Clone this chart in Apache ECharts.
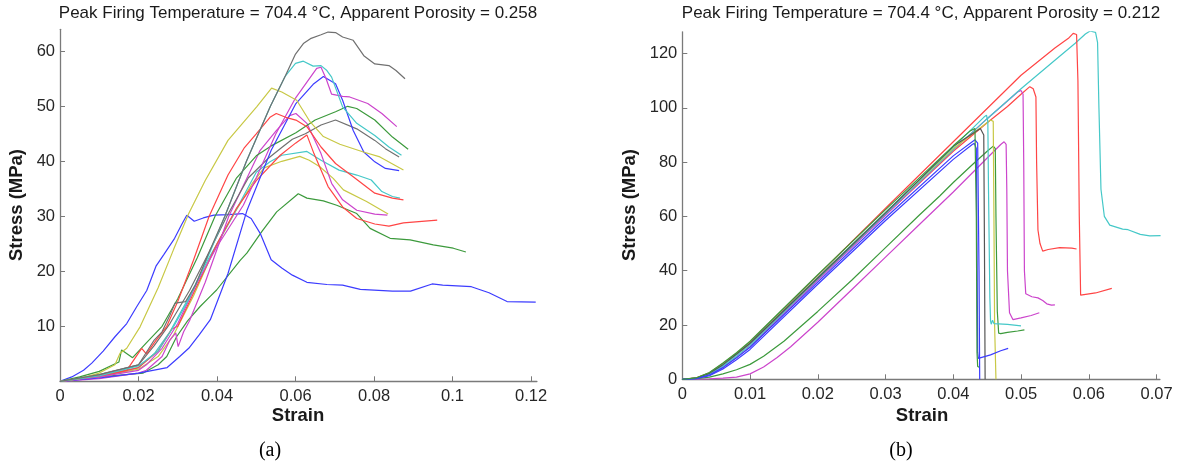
<!DOCTYPE html>
<html>
<head>
<meta charset="utf-8">
<script src="https://cdn.jsdelivr.net/npm/echarts@6/dist/echarts.min.js"></script>
<style>
html,body{margin:0;padding:0;background:#fff;}
#chart{width:1179px;height:469px;}
</style>
</head>
<body>
<div id="chart"></div>
<script>
// ---------- tick labels ----------
const LEFT_X_TICKS = [0, 0.02, 0.04, 0.06, 0.08, 0.1, 0.12];
const LEFT_Y_TICKS = [10, 20, 30, 40, 50, 60];
const RIGHT_X_TICKS = [0, 0.01, 0.02, 0.03, 0.04, 0.05, 0.06, 0.07];
const RIGHT_Y_TICKS = [0, 20, 40, 60, 80, 100, 120];

const TITLE_A = "Peak Firing Temperature = 704.4 \u00B0C, Apparent Porosity = 0.258";
const TITLE_B = "Peak Firing Temperature = 704.4 \u00B0C, Apparent Porosity = 0.212";

// ---------- left panel (a): [strain, stress] ----------
const A_BLUE1 = [[0,0],[0.003,0.8],[0.006,2],[0.0081,3.3],[0.011,5.5],[0.014,8.1],[0.017,10.5],[0.0195,13.5],[0.0221,16.5],[0.0245,21],[0.0264,23],[0.0292,26],[0.031,28.5],[0.0323,30.2],[0.0342,29.1],[0.0365,29.7],[0.0392,30.2],[0.043,30.3],[0.0465,30.5],[0.0487,29.6],[0.051,26.9],[0.0538,22.1],[0.0565,20.6],[0.0592,19.3],[0.0629,18],[0.068,17.6],[0.072,17.5],[0.0765,16.7],[0.0847,16.4],[0.0893,16.4],[0.0948,17.7],[0.0975,17.5],[0.1048,17.2],[0.1093,16.1],[0.1139,14.5],[0.1212,14.4]];
const A_YELLOW1 = [[0,0],[0.005,0.5],[0.01,1.5],[0.014,3],[0.0153,5.1],[0.017,6],[0.0204,9.9],[0.025,17],[0.0289,23.9],[0.0328,30.5],[0.037,36.5],[0.0428,43.8],[0.0465,46.9],[0.0501,49.9],[0.0539,53.3],[0.0565,52.6],[0.0603,51.1],[0.0637,47.2],[0.0671,44.5],[0.0713,43.1],[0.0773,41.7],[0.0815,40.8],[0.0875,38.4]];
const A_RED1 = [[0,0],[0.01,1],[0.017,2],[0.0208,6],[0.022,5],[0.0245,7.5],[0.0272,10],[0.03,14.5],[0.034,22],[0.038,30],[0.0428,37.5],[0.047,42.5],[0.05,45],[0.0535,48],[0.0551,48.7],[0.0575,48],[0.0601,47.5],[0.0629,46.3],[0.0665,42.6],[0.0702,39.6],[0.0747,37.2],[0.0802,34.2],[0.0847,33.3],[0.0875,33]];
const A_RED2 = [[0,0],[0.01,0.8],[0.02,2.5],[0.025,5.5],[0.0285,9.5],[0.03,10],[0.035,17.5],[0.04,25],[0.045,31.5],[0.05,36.5],[0.0561,41.1],[0.06,43.3],[0.0629,44.8],[0.0647,41.4],[0.0683,35.4],[0.072,31.7],[0.0756,29.6],[0.0802,28.6],[0.0838,28.2],[0.0875,28.8],[0.0961,29.3]];
const A_CYAN1 = [[0,0],[0.01,1],[0.02,2.8],[0.025,5.5],[0.029,10],[0.0325,14.5],[0.0355,19],[0.0385,24],[0.042,30],[0.0475,40],[0.0536,50],[0.0574,55.5],[0.06,57.8],[0.062,58.2],[0.0645,57.3],[0.0665,57.4],[0.068,56.5],[0.0692,55.3],[0.072,49.9],[0.0756,46.9],[0.0802,44.7],[0.0838,42.6],[0.087,41.1]];
const A_GRAY1 = [[0,0],[0.01,1.2],[0.02,3],[0.024,7.5],[0.026,9],[0.028,12],[0.0293,14.2],[0.032,14.5],[0.0345,17.5],[0.038,23.5],[0.042,30],[0.0475,40],[0.0536,50],[0.0574,55.5],[0.06,59.5],[0.062,61.4],[0.0638,62.3],[0.0665,63],[0.0683,63.5],[0.0702,63.4],[0.072,62.6],[0.0747,62],[0.0774,59.2],[0.0802,57.7],[0.0838,57.4],[0.0856,56.5],[0.0879,55]];
const A_MAGENTA1 = [[0,0],[0.01,0.8],[0.02,2],[0.022,3],[0.026,6],[0.03,10.5],[0.035,18],[0.04,24.5],[0.0467,32],[0.05,37],[0.055,45],[0.06,51.5],[0.0654,56.9],[0.0665,57.1],[0.0678,55],[0.0692,52.2],[0.072,51.8],[0.0738,51.7],[0.0784,50.5],[0.082,48.7],[0.0858,46.3]];
const A_BLUE2 = [[0,0],[0.01,0.6],[0.02,1.5],[0.0273,2.5],[0.0305,4.5],[0.0328,6],[0.0355,8.5],[0.0383,11.2],[0.0428,19.6],[0.0476,31],[0.0538,42],[0.0601,50.5],[0.0645,54],[0.0671,55.4],[0.0702,54.1],[0.072,51.1],[0.0747,45.6],[0.0774,41.7],[0.0802,39.9],[0.0829,38.7],[0.0864,38.3]];
const A_GREEN1 = [[0,0],[0.005,0.8],[0.01,1.8],[0.015,3.5],[0.0157,5.7],[0.0185,4.3],[0.022,7],[0.026,10],[0.03,15],[0.035,22.5],[0.0395,30],[0.045,37],[0.05,41],[0.0538,42.8],[0.0601,45.2],[0.065,47.5],[0.0702,49],[0.0733,50],[0.0756,49.6],[0.0802,47.5],[0.0847,44.4],[0.0887,42.2]];
const A_GRAY2 = [[0,0],[0.01,1.2],[0.02,3],[0.024,6.5],[0.028,10.5],[0.033,16.5],[0.038,23.5],[0.0425,30],[0.048,37],[0.053,40.5],[0.0565,42.5],[0.0592,44],[0.0625,45],[0.0665,46.6],[0.0702,47.5],[0.0756,45.9],[0.0802,43.8],[0.0829,42.3],[0.0864,40.8]];
const A_MAGENTA2 = [[0,0],[0.01,0.5],[0.02,1.5],[0.022,2],[0.026,4.5],[0.028,7.5],[0.0295,8.8],[0.0301,6.3],[0.0315,9],[0.033,11],[0.037,18],[0.043,30],[0.047,36],[0.051,42],[0.055,45.5],[0.0585,48.3],[0.0601,48.7],[0.0629,46.9],[0.0665,41.4],[0.0692,36],[0.072,33],[0.0756,31.1],[0.0802,30.4],[0.0834,30.2]];
const A_CYAN2 = [[0,0],[0.01,1],[0.02,2.5],[0.024,5],[0.028,9],[0.033,15.5],[0.038,22.5],[0.044,30],[0.05,38],[0.0535,39.9],[0.0565,41.1],[0.0629,41.8],[0.0665,40.2],[0.0711,38.4],[0.0756,37.5],[0.0793,36.6],[0.082,34.5],[0.0847,33.6],[0.0866,33.3]];
const A_YELLOW2 = [[0,0],[0.01,0.8],[0.02,2.2],[0.025,4.5],[0.029,8.5],[0.034,15.5],[0.039,23.5],[0.044,30],[0.049,36],[0.052,38.8],[0.0565,40],[0.0611,40.9],[0.0635,40.2],[0.0662,39],[0.0696,36.9],[0.0722,34.8],[0.0781,32.7],[0.0836,30.4]];
const A_GREEN2 = [[0,0],[0.01,0.8],[0.0212,1.5],[0.025,3],[0.0272,4.5],[0.0297,8.1],[0.0325,11],[0.0357,13.6],[0.0382,15.4],[0.0399,16.6],[0.0459,22],[0.0476,23.3],[0.0515,27.3],[0.0552,30.8],[0.0607,34.1],[0.0629,33.3],[0.0671,32.8],[0.0705,32],[0.0756,30.5],[0.079,27.8],[0.0841,26],[0.0892,25.7],[0.0951,24.8],[0.1002,24.2],[0.1034,23.5]];

// ---------- right panel (b): [strain, stress] ----------
const B_GREEN1 = [[0,0],[0.002,0.5],[0.004,2.5],[0.006,6],[0.008,9.8],[0.01,14],[0.02,38.5],[0.03,62.5],[0.04,86],[0.0425,91.5],[0.0432,92.4],[0.0434,60],[0.0435,10],[0.0436,4.7],[0.0438,4.5]];
const B_RED1 = [[0,0],[0.002,0.5],[0.004,2.4],[0.006,5.8],[0.008,9.6],[0.01,13.8],[0.02,38.3],[0.03,63],[0.04,87.5],[0.05,112],[0.055,122],[0.057,125.6],[0.0577,127.4],[0.0582,127],[0.0584,110],[0.0586,60],[0.0588,31],[0.059,30.5],[0.061,31.8],[0.0634,33.5]];
const B_CYAN1 = [[0,0],[0.002,0.3],[0.004,1.8],[0.006,4.8],[0.008,8.5],[0.01,12.5],[0.02,37],[0.03,61],[0.04,84.5],[0.045,96],[0.05,107],[0.055,117.5],[0.058,123.8],[0.0595,127.2],[0.0602,128.3],[0.061,127.8],[0.0613,124],[0.0615,100],[0.0618,70],[0.0623,60],[0.0631,56.8],[0.065,55.3],[0.0658,55.1],[0.0676,53.4],[0.069,52.8],[0.0706,52.9]];
const B_RED2 = [[0,0],[0.002,0.4],[0.004,2],[0.006,5.2],[0.008,9],[0.01,13],[0.02,37],[0.03,60.5],[0.04,84],[0.045,94.5],[0.048,100.5],[0.05,105],[0.0513,107.8],[0.0518,107],[0.0522,104],[0.0523,80],[0.0525,55],[0.0528,50],[0.0532,47.2],[0.054,47.8],[0.0557,48.5],[0.0575,48.3],[0.0582,48]];
const B_MAGENTA1 = [[0,0],[0.002,0.3],[0.004,1.6],[0.006,4.4],[0.008,8],[0.01,12],[0.02,36.5],[0.03,60.5],[0.04,84.5],[0.045,96],[0.048,102.5],[0.0495,105.8],[0.05,106.4],[0.0503,105],[0.0504,80],[0.0505,40],[0.0507,31.5],[0.0516,30.4],[0.0525,30],[0.0532,29],[0.0538,27.8],[0.0545,27.3],[0.055,27.4]];
const B_MAGENTA2 = [[0,0],[0.004,0.2],[0.006,0.4],[0.008,0.8],[0.01,2],[0.012,4.5],[0.014,8],[0.016,12],[0.02,21],[0.025,33],[0.03,45],[0.035,57],[0.04,69],[0.045,81.5],[0.047,86.5],[0.0475,87.5],[0.0478,86.5],[0.0479,70],[0.048,40],[0.0483,24.5],[0.0488,22],[0.05,22.6],[0.0515,23.5],[0.0527,24.5]];
const B_GREEN2 = [[0,0],[0.002,0.2],[0.004,0.8],[0.006,2],[0.008,3.5],[0.01,5.5],[0.012,8.5],[0.015,14],[0.02,25],[0.025,36.5],[0.03,48.5],[0.035,60.5],[0.038,67.5],[0.04,72.5],[0.043,79.5],[0.045,84],[0.0459,85.9],[0.0462,85],[0.0463,60],[0.0465,25],[0.0467,17],[0.047,16.8],[0.048,17.3],[0.0495,17.8],[0.0505,18.2]];
const B_CYAN2 = [[0,0],[0.002,0.4],[0.004,2.1],[0.006,5.3],[0.008,9.1],[0.01,13.2],[0.02,37.5],[0.03,61.5],[0.04,85.5],[0.0445,96.5],[0.0449,97.3],[0.0451,95],[0.0452,70],[0.0454,30],[0.0455,21.5],[0.0456,20.3],[0.0458,21.8],[0.046,20.5],[0.048,20.2],[0.05,19.7]];
const B_YELLOW = [[0,0],[0.002,0.45],[0.004,2.3],[0.006,5.6],[0.008,9.5],[0.01,13.5],[0.02,37.5],[0.03,61.5],[0.04,85],[0.0455,95.5],[0.0459,95],[0.046,60],[0.0461,20],[0.0463,0]];
const B_GRAY = [[0,0],[0.002,0.4],[0.004,2.2],[0.006,5.4],[0.008,9.3],[0.01,13.3],[0.02,37.3],[0.03,61.3],[0.04,85.8],[0.044,92.4],[0.0445,90],[0.0446,50],[0.0447,0]];
const B_BLUE1 = [[0,0],[0.002,0.2],[0.004,1.3],[0.006,3.8],[0.008,7.2],[0.01,11],[0.02,35],[0.03,58.5],[0.04,81],[0.0428,86.5],[0.0431,86.9],[0.0434,85],[0.0435,50],[0.0436,10],[0.0437,7.7],[0.0455,9],[0.047,10.5],[0.0481,11.4]];
const B_BLUE2 = [[0,0],[0.002,0.3],[0.004,1.6],[0.006,4.3],[0.008,7.9],[0.01,11.8],[0.02,35.8],[0.03,59.5],[0.04,82.3],[0.0432,88.2],[0.0436,87],[0.0438,40],[0.0439,0]];

// ---------- colours ----------
const C = {
  blue: '#3c3cff', green: '#3c9a3c', red: '#ff4545', cyan: '#45c8c8',
  magenta: '#cc45cc', yellow: '#c8c845', gray: '#707070', dgray: '#555555'
};

const LEFT_SERIES = [
  [A_GREEN2, C.green], [A_BLUE1, C.blue], [A_YELLOW2, C.yellow], [A_CYAN2, C.cyan],
  [A_RED2, C.red], [A_MAGENTA2, C.magenta], [A_GRAY2, C.gray], [A_GREEN1, C.green],
  [A_BLUE2, C.blue], [A_MAGENTA1, C.magenta], [A_RED1, C.red], [A_YELLOW1, C.yellow],
  [A_CYAN1, C.cyan], [A_GRAY1, C.gray]
];
const RIGHT_SERIES = [
  [B_MAGENTA2, C.magenta], [B_GREEN2, C.green], [B_RED2, C.red], [B_MAGENTA1, C.magenta],
  [B_CYAN1, C.cyan], [B_RED1, C.red], [B_YELLOW, C.yellow], [B_CYAN2, C.cyan],
  [B_GRAY, C.dgray], [B_BLUE2, C.blue], [B_BLUE1, C.blue], [B_GREEN1, C.green]
];

const FONT = '"Liberation Sans", Arial, sans-serif';
const AXIS_COLOR = '#7a7a7a';
const LABEL_COLOR = '#262626';
const fmt = v => String(+Number(v).toFixed(4));

function xAxisDef(gridIndex, max, ticks) {
  return {
    type: 'value', gridIndex, min: 0, max,
    axisLine: { show: true, onZero: false, lineStyle: { color: AXIS_COLOR, width: 1.3 } },
    axisTick: { show: true, inside: true, length: 5, customValues: ticks, lineStyle: { color: AXIS_COLOR } },
    axisLabel: { customValues: ticks, formatter: fmt, color: LABEL_COLOR, fontFamily: FONT, fontSize: 16.5, margin: 7 },
    splitLine: { show: false }
  };
}
function yAxisDef(gridIndex, max, ticks) {
  return {
    type: 'value', gridIndex, min: 0, max,
    axisLine: { show: true, onZero: false, lineStyle: { color: AXIS_COLOR, width: 1.3 } },
    axisTick: { show: true, inside: true, length: 5, customValues: ticks, lineStyle: { color: AXIS_COLOR } },
    axisLabel: { customValues: ticks, formatter: fmt, color: LABEL_COLOR, fontFamily: FONT, fontSize: 16.5, margin: 5 },
    splitLine: { show: false }
  };
}

const series = [];
LEFT_SERIES.forEach(([d, col]) => series.push({
  type: 'line', xAxisIndex: 0, yAxisIndex: 0, data: d, showSymbol: false, symbol: 'none',
  smooth: false, clip: true, lineStyle: { color: col, width: 1.2 }, silent: true
}));
RIGHT_SERIES.forEach(([d, col]) => series.push({
  type: 'line', xAxisIndex: 1, yAxisIndex: 1, data: d, showSymbol: false, symbol: 'none',
  smooth: false, clip: true, lineStyle: { color: col, width: 1.2 }, silent: true
}));

function txt(x, y, text, font, rot, color) {
  return { type: 'text', x, y, rotation: rot || 0, silent: true,
    style: { text, x: 0, y: 0, align: 'center', verticalAlign: 'middle', font, fill: color || '#1a1a1a' } };
}

const option = {
  animation: false,
  backgroundColor: '#ffffff',
  grid: [
    { left: 60, top: 29.3, width: 476.9, height: 352 },
    { left: 682.3, top: 31.8, width: 477.6, height: 347.5 }
  ],
  xAxis: [xAxisDef(0, 0.1215, LEFT_X_TICKS), xAxisDef(1, 0.0705, RIGHT_X_TICKS)],
  yAxis: [yAxisDef(0, 64, LEFT_Y_TICKS), yAxisDef(1, 128, RIGHT_Y_TICKS)],
  series,
  graphic: [
    txt(298, 13, TITLE_A, '17px ' + FONT),
    txt(921, 13, TITLE_B, '17px ' + FONT),
    txt(298, 416, 'Strain', 'bold 18.5px ' + FONT),
    txt(922, 416, 'Strain', 'bold 18.5px ' + FONT),
    txt(17, 205, 'Stress (MPa)', 'bold 18.5px ' + FONT, Math.PI / 2),
    txt(630, 205, 'Stress (MPa)', 'bold 18.5px ' + FONT, Math.PI / 2),
    txt(270, 451, '(a)', '20px "Liberation Serif", "Times New Roman", serif', 0, '#000'),
    txt(901, 451, '(b)', '20px "Liberation Serif", "Times New Roman", serif', 0, '#000')
  ]
};

const chart = echarts.init(document.getElementById('chart'), null, { renderer: 'canvas' });
chart.setOption(option);
</script>
</body>
</html>
